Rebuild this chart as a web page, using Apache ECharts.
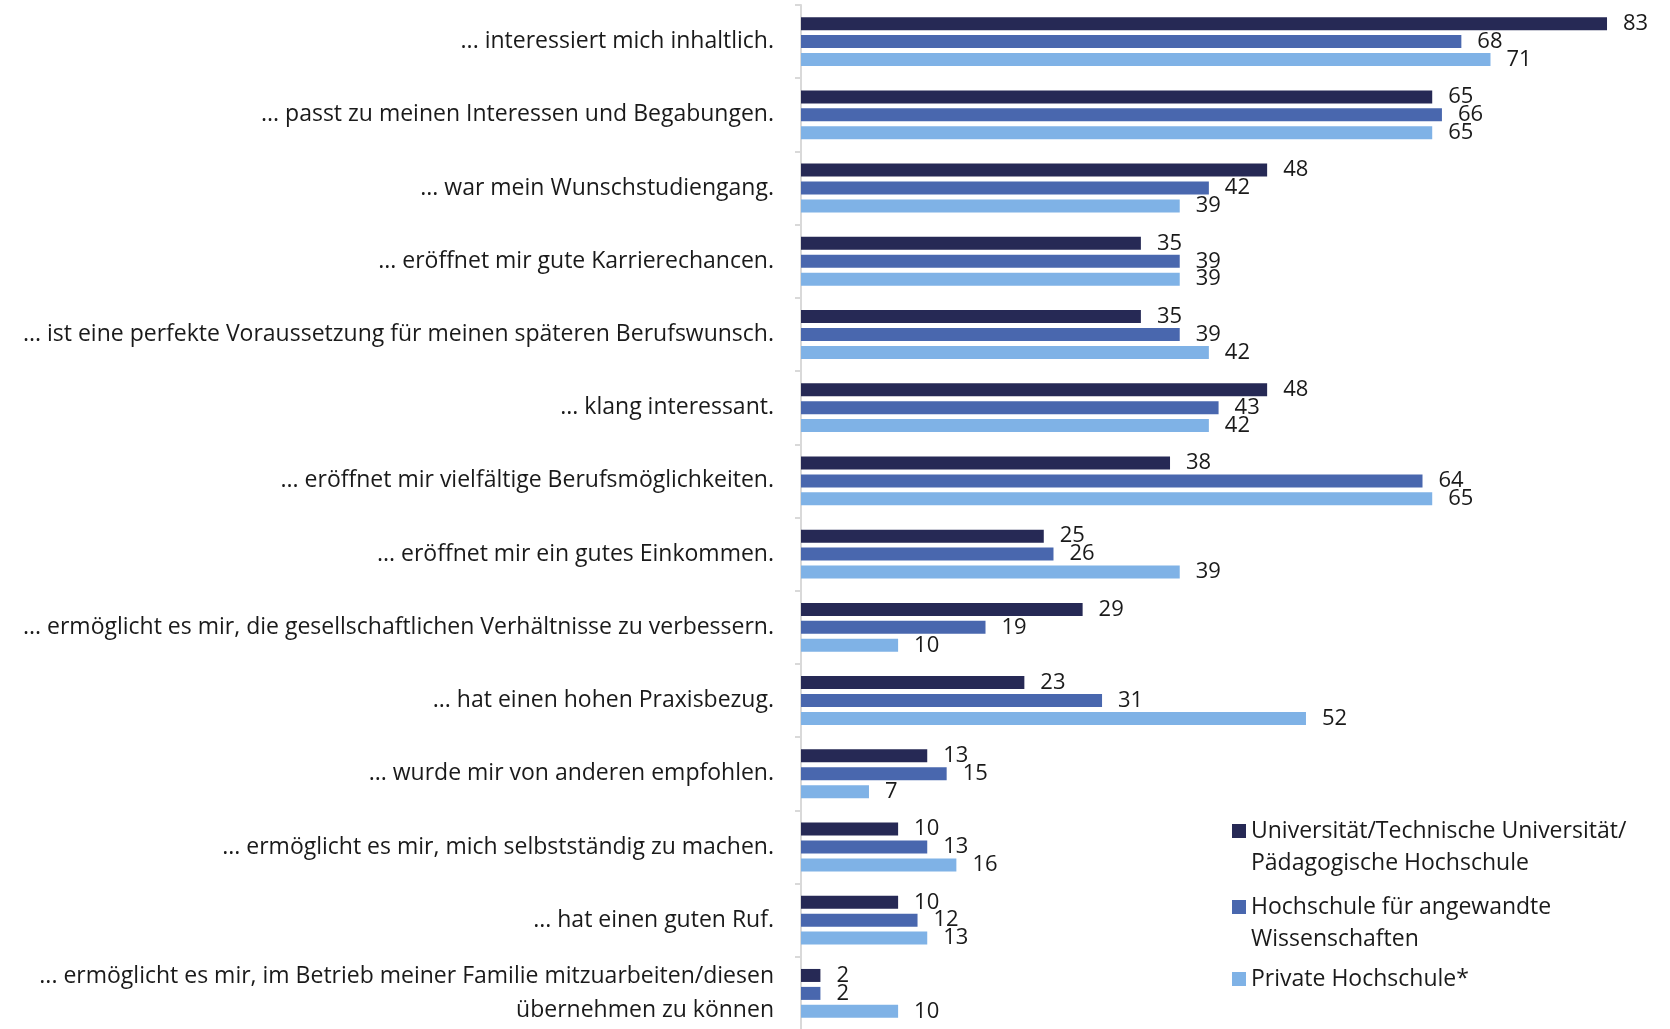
<!DOCTYPE html>
<html><head><meta charset="utf-8">
<script src="https://cdn.jsdelivr.net/npm/echarts@6/dist/echarts.min.js"></script>
<style>html,body{margin:0;padding:0;background:#fff}#c{width:1670px;height:1029px}</style>
</head><body><div id="c"></div>
<script>
const categories = [
  "... interessiert mich inhaltlich.",
  "... passt zu meinen Interessen und Begabungen.",
  "... war mein Wunschstudiengang.",
  "... eröffnet mir gute Karrierechancen.",
  "... ist eine perfekte Voraussetzung für meinen späteren Berufswunsch.",
  "... klang interessant.",
  "... eröffnet mir vielfältige Berufsmöglichkeiten.",
  "... eröffnet mir ein gutes Einkommen.",
  "... ermöglicht es mir, die gesellschaftlichen Verhältnisse zu verbessern.",
  "... hat einen hohen Praxisbezug.",
  "... wurde mir von anderen empfohlen.",
  "... ermöglicht es mir, mich selbstständig zu machen.",
  "... hat einen guten Ruf.",
  "... ermöglicht es mir, im Betrieb meiner Familie mitzuarbeiten/diesen\nübernehmen zu können"
];
const seriesNames = [
  "Universität/Technische Universität/\nPädagogische Hochschule",
  "Hochschule für angewandte\nWissenschaften",
  "Private Hochschule*"
];
const universitaet = [83, 65, 48, 35, 35, 48, 38, 25, 29, 23, 13, 10, 10, 2];
const hochschuleAW = [68, 66, 42, 39, 39, 43, 64, 26, 19, 31, 15, 13, 12, 2];
const privateHS    = [71, 65, 39, 39, 42, 42, 65, 39, 10, 52, 7, 16, 13, 10];

const colors = ['#262955', '#4967AE', '#7FB2E6'];
const FONT = '"Open Sans"';
const TXT = '#1a1a1a';
const FS = 23;
const FS_LABEL = 22;

const chart = echarts.init(document.getElementById('c'), null, {renderer: 'canvas'});
function mkSeries(i, data) {
  return {
    name: seriesNames[i], type: 'bar', data: data,
    barWidth: 13, barGap: '38%',
    itemStyle: {color: colors[i]},
    label: {show: true, position: 'right', distance: 16, color: TXT, fontFamily: FONT, fontSize: FS_LABEL},
    animation: false
  };
}
function mkLegend(i, top, twoLine) {
  return {
    data: [seriesNames[i]],
    orient: 'vertical', left: 1232, top: top, padding: 0,
    itemWidth: 14, itemHeight: 14, icon: 'rect', itemGap: 0,
    selectedMode: false,
    formatter: function (n) { return twoLine ? '\n' + n : n; },
    textStyle: {fontFamily: FONT, fontSize: FS, color: TXT, lineHeight: 32}
  };
}
chart.setOption({
  animation: false,
  textStyle: {fontFamily: FONT},
  grid: {left: 801, top: 5, width: 874, height: 1025, containLabel: false, outerBoundsMode: 'none'},
  legend: [mkLegend(0, 783, true), mkLegend(1, 859, true), mkLegend(2, 963, false)],
  xAxis: {type: 'value', min: 0, max: 90, show: false, splitLine: {show: false}},
  yAxis: {
    type: 'category', data: categories, inverse: true,
    axisLine: {lineStyle: {color: '#D9D9D9', width: 2}},
    axisTick: {show: true, length: 6, lineStyle: {color: '#D9D9D9', width: 2}},
    axisLabel: {margin: 27, color: TXT, fontFamily: FONT, fontSize: FS, lineHeight: 34, align: 'right'}
  },
  series: [mkSeries(0, universitaet), mkSeries(1, hochschuleAW), mkSeries(2, privateHS)]
});
</script></body></html>
